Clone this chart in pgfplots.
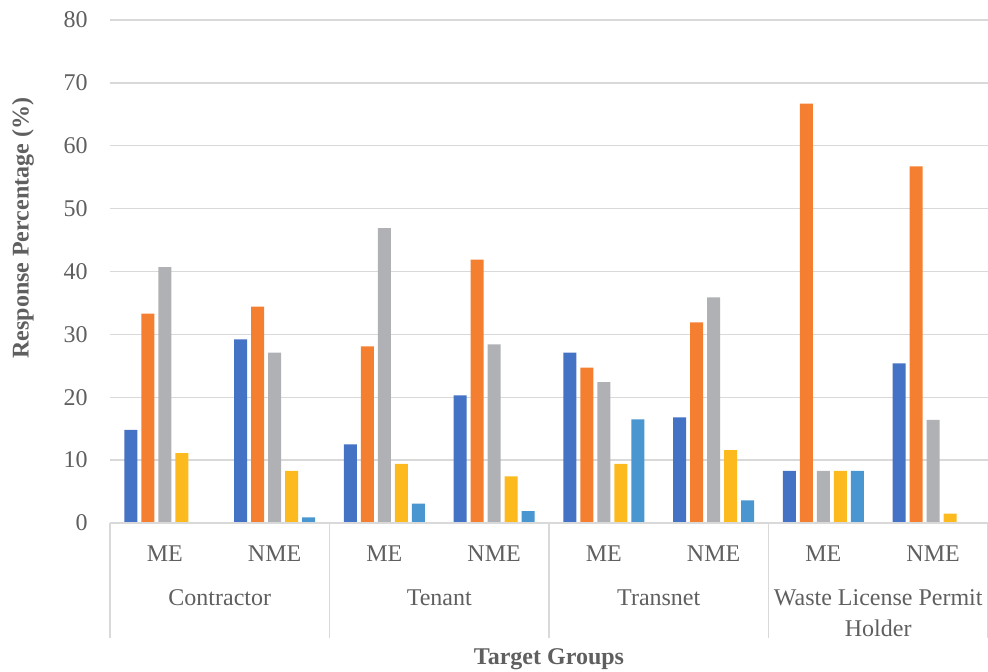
\documentclass[border=0pt]{standalone}
\usepackage{pgfplots}
\pgfplotsset{compat=1.18}
\usepackage{pgfplotstable}
\usepackage{fontspec}
\setmainfont{Liberation Serif}
\definecolor{cblue}{RGB}{68,114,196}
\definecolor{corange}{RGB}{244,127,48}
\definecolor{cgray}{RGB}{176,177,180}
\definecolor{cyellow}{RGB}{252,186,30}
\definecolor{clblue}{RGB}{74,150,208}
\definecolor{txt}{RGB}{95,95,95}
\definecolor{gridc}{RGB}{217,217,217}
\newcommand\lbl{\fontsize{12bp}{15.5bp}\selectfont}
\pgfplotstableread{
x  a    b    c    d    e
0  14.8 33.3 40.7 11.1 0
1  29.2 34.4 27.1 8.3  0.9
2  12.5 28.1 46.9 9.4  3.1
3  20.3 41.9 28.4 7.4  1.9
4  27.1 24.7 22.4 9.4  16.5
5  16.8 31.9 35.9 11.6 3.6
6  8.3  66.7 8.3  8.3  8.3
7  25.4 56.7 16.4 1.5  0
}\datatable
\begin{document}
\begin{tikzpicture}[font=\lbl]
\useasboundingbox (-55bp,-74.5bp) rectangle (439bp,261.5bp);
\begin{axis}[
  at={(0,0)}, anchor=south west,
  scale only axis, width=439bp, height=251.5bp,
  xmin=-0.5, xmax=7.5, ymin=0, ymax=80,
  ytick={0,10,...,80},
  xtick={0,...,7},
  xticklabels={ME,NME,ME,NME,ME,NME,ME,NME},
  /pgf/number format/assume math mode=true,
  axis line style={draw=none},
  major tick length=0pt,
  ymajorgrids, grid style={gridc, line width=0.75bp},
  xticklabel style={font=\lbl, text=txt, anchor=base, yshift=-19bp},
  yticklabel style={font=\lbl, text=txt, anchor=east, inner sep=0pt, xshift=-11bp},
  ybar, bar width=0.118,
  clip=false,
]
\addplot[fill=cblue, draw=none, bar shift=-0.31] table[x=x,y=a]{\datatable};
\addplot[fill=corange, draw=none, bar shift=-0.155] table[x=x,y=b]{\datatable};
\addplot[fill=cgray, draw=none, bar shift=0] table[x=x,y=c]{\datatable};
\addplot[fill=cyellow, draw=none, bar shift=0.155] table[x=x,y=d]{\datatable};
\addplot[fill=clblue, draw=none, bar shift=0.31] table[x=x,y=e]{\datatable};
\draw[gridc, line width=0.75bp] (axis cs:-0.5,0) -- (axis cs:7.5,0);
\pgfplotsinvokeforeach{-0.5,1.5,3.5,5.5,7.5}{
  \draw[gridc, line width=0.75bp] (axis cs:#1,0) -- ([yshift=-57.5bp]axis cs:#1,0);
}
\node[anchor=base, text=txt] at ([yshift=-41bp]axis cs:0.5,0) {Contractor};
\node[anchor=base, text=txt] at ([yshift=-41bp]axis cs:2.5,0) {Tenant};
\node[anchor=base, text=txt] at ([yshift=-41bp]axis cs:4.5,0) {Transnet};
\node[anchor=base, text=txt] at ([yshift=-41bp]axis cs:6.5,0) {Waste License Permit};
\node[anchor=base, text=txt] at ([yshift=-56.5bp]axis cs:6.5,0) {Holder};
\node[anchor=base, text=txt, font=\lbl\bfseries] at ([yshift=-70.5bp]rel axis cs:0.5,0) {Target Groups};
\node[rotate=90, text=txt, font=\lbl\bfseries] at ([xshift=-43.5bp]rel axis cs:0,0.586) {Response Percentage (\%)};
\end{axis}
\end{tikzpicture}
\end{document}
